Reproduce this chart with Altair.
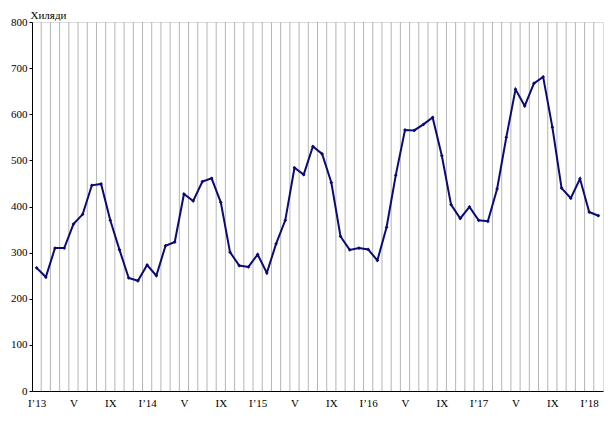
import altair as alt
import pandas as pd

values = [
    267, 247, 310, 310, 362, 383, 446, 449, 370, 306, 245, 239,
    273, 250, 315, 323, 427, 412, 454, 461, 409, 301, 272, 269,
    296, 256, 319, 370, 484, 469, 530, 514, 452, 335, 306, 310,
    307, 283, 355, 468, 566, 565, 578, 593, 510, 404, 374, 399,
    370, 368, 438, 550, 654, 618, 667, 681, 572, 440, 418, 460,
    388, 380,
]
tick_labels = ["I\u201913", "V", "IX", "I\u201914", "V", "IX", "I\u201915", "V", "IX",
               "I\u201916", "V", "IX", "I\u201917", "V", "IX", "I\u201918"]

n = len(values)
df = pd.DataFrame({"idx": list(range(n)), "v": values})
grid = pd.DataFrame({"idx": [i - 0.5 for i in range(1, n)]})

label_arr = "[" + ",".join("'" + s + "'" for s in tick_labels) + "]"
FONT = "Liberation Serif"

xscale = alt.Scale(domain=[-0.5, n - 0.5], nice=False, zero=False)
xaxis = alt.Axis(values=list(range(0, n, 4)), labelExpr=label_arr + "[datum.value/4]",
                 title=None, grid=False, ticks=False, domainColor="black",
                 labelFont=FONT, labelFontSize=11, labelColor="black",
                 labelPadding=6)

rules = alt.Chart(grid).mark_rule(color="#b4b4b4", strokeWidth=1).encode(
    x=alt.X("idx:Q", scale=xscale, axis=xaxis)
)

line = alt.Chart(df).mark_line(
    color="#0a0a78", strokeWidth=2,
    point=alt.OverlayMarkDef(shape="diamond", size=14, color="#0a0a78", filled=True),
).encode(
    x=alt.X("idx:Q", scale=xscale, axis=xaxis),
    y=alt.Y("v:Q", scale=alt.Scale(domain=[0, 800], nice=False),
            axis=alt.Axis(values=list(range(0, 801, 100)), title="Хиляди", titleAngle=0,
                          titleAlign="left", titleBaseline="alphabetic", titleX=-2, titleY=-4,
                          titleFont=FONT, titleFontSize=11, titleFontWeight="normal",
                          titleColor="black", grid=False, tickSize=3, tickColor="black",
                          domainColor="black", labelFont=FONT, labelFontSize=11,
                          labelColor="black", labelPadding=2)),
)

chart = alt.layer(rules, line).properties(
    width=571, height=369,
    autosize=alt.AutoSizeParams(type="none"),
    padding={"left": 24, "top": 14, "right": 3, "bottom": 26},
).configure_view(stroke="#a0a0a0", strokeWidth=1).configure(
    background="white", font=FONT
)

chart.save("out.html", embed_options={"renderer": "svg", "actions": False})
